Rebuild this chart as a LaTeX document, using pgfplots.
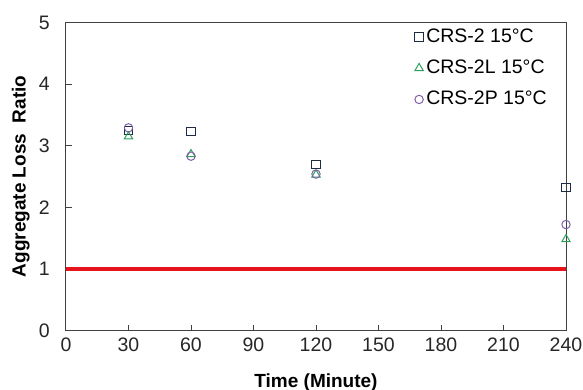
\documentclass[border=0pt]{standalone}
\usepackage{pgfplots}
\pgfplotsset{compat=1.18}
\usepackage{fontspec}
\setmainfont{Liberation Sans}
\definecolor{sqcol}{HTML}{1F2A44}
\definecolor{tricol}{HTML}{2CA05A}
\definecolor{circol}{HTML}{8060A8}
\definecolor{axcol}{HTML}{404040}
\definecolor{redline}{HTML}{E8141B}
\begin{document}
\fontsize{18bp}{21bp}\selectfont
\begin{tikzpicture}
\path[use as bounding box] (-66bp,-59.5bp) rectangle (517bp,330.5bp);
\begin{axis}[
  at={(0,0)}, anchor=south west,
  scale only axis,
  width=500bp, height=308bp,
  xmin=0, xmax=240, ymin=0, ymax=5,
  xtick={0,30,...,240}, ytick={0,1,...,5},
  axis line style={axcol, line width=1bp},
  tick style={axcol, line width=1bp},
  tick align=inside,
  major tick length=6bp,
  xtick pos=bottom, ytick pos=left,
  /pgf/number format/assume math mode=true,
  tick label style={font=\fontsize{19.5bp}{21bp}\selectfont, text=black!85},
  xticklabel style={yshift=-1bp},
  yticklabel style={xshift=-10bp},
  xlabel={\textbf{Time (Minute)}},
  ylabel={\textbf{Aggregate Loss\ \ Ratio}},
  label style={font=\fontsize{19bp}{21bp}\selectfont},
  xlabel style={yshift=-10bp},
  ylabel style={yshift=-3bp},
  legend style={at={(1,1)}, anchor=north east, draw=none, fill=none,
    xshift=-14bp, yshift=-2bp,
    font=\fontsize{19.5bp}{21bp}\selectfont,
    row sep=11bp, inner sep=2bp,
    nodes={inner xsep=3bp}},
  legend cell align=left,
  legend image code/.code={\draw[#1] plot coordinates {(0.1cm,0cm)};},
  clip=false,
]
\addplot[redline, line width=4bp, forget plot] coordinates {(0,1) (240,1)};
\addplot[only marks, mark=square, mark size=4.2bp, sqcol, line width=1bp]
  coordinates {(30,3.25) (60,3.23) (120,2.69) (240,2.32)};
\addlegendentry{CRS-2 15°C}
\addplot[only marks, mark=triangle, mark size=4.8bp, tricol, line width=1bp]
  coordinates {(30,3.15) (60,2.86) (120,2.53) (240,1.48)};
\addlegendentry{CRS-2L 15°C}
\addplot[only marks, mark=o, mark size=4.2bp, circol, line width=1bp]
  coordinates {(30,3.29) (60,2.83) (120,2.54) (240,1.72)};
\addlegendentry{CRS-2P 15°C}
\end{axis}
\end{tikzpicture}
\end{document}
